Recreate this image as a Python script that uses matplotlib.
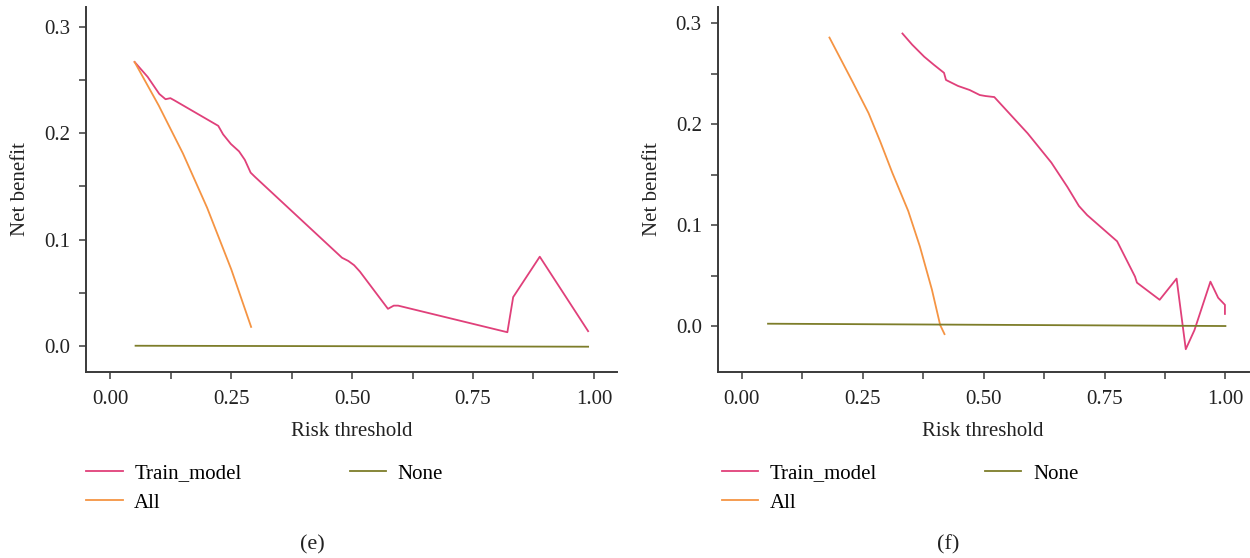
import matplotlib

matplotlib.use("Agg")
import matplotlib.pyplot as plt
from matplotlib.ticker import MultipleLocator

plt.rcParams["font.family"] = ["Liberation Serif", "DejaVu Serif"]

# panel (e)
e_model_x = [0.050, 0.077, 0.101, 0.114, 0.124, 0.132, 0.223, 0.233, 0.249,
             0.266, 0.278, 0.290, 0.299, 0.479, 0.492, 0.504, 0.516, 0.574,
             0.586, 0.595, 0.821, 0.833, 0.888, 0.988]
e_model_y = [0.267, 0.253, 0.237, 0.232, 0.233, 0.231, 0.207, 0.199, 0.190,
             0.183, 0.175, 0.163, 0.159, 0.083, 0.080, 0.076, 0.070, 0.035,
             0.038, 0.038, 0.013, 0.046, 0.084, 0.014]
e_all_x = [0.050, 0.100, 0.150, 0.200, 0.250, 0.291]
e_all_y = [0.267, 0.226, 0.181, 0.130, 0.072, 0.018]
e_none_x = [0.052, 0.988]
e_none_y = [0.0003, -0.0006]

# panel (f)
f_model_x = [0.332, 0.352, 0.377, 0.397, 0.418, 0.422, 0.426, 0.447, 0.471,
             0.492, 0.504, 0.522, 0.591, 0.640, 0.673, 0.697, 0.714, 0.776,
             0.813, 0.817, 0.864, 0.899, 0.918, 0.936, 0.969, 0.985, 0.999,
             0.999]
f_model_y = [0.290, 0.279, 0.267, 0.259, 0.251, 0.244, 0.243, 0.238, 0.234,
             0.229, 0.228, 0.227, 0.191, 0.162, 0.138, 0.119, 0.110, 0.084,
             0.049, 0.043, 0.026, 0.047, -0.023, -0.004, 0.044, 0.028, 0.021,
             0.012]
f_all_x = [0.181, 0.229, 0.262, 0.286, 0.311, 0.344, 0.368, 0.393, 0.410,
           0.419]
f_all_y = [0.286, 0.242, 0.211, 0.183, 0.152, 0.114, 0.079, 0.036, 0.001,
           -0.008]
f_none_x = [0.054, 1.0]
f_none_y = [0.0023, 0.0]

labels = ["Train_model", "All", "None"]
colors = ["#E0407A", "#F59443", "#7D7D2A"]

panels = [
    ("(e)", [(e_model_x, e_model_y), (e_all_x, e_all_y), (e_none_x, e_none_y)],
     (-0.0244, 0.3186), 0.069, 0.0, 312),
    ("(f)", [(f_model_x, f_model_y), (f_all_x, f_all_y), (f_none_x, f_none_y)],
     (-0.0456, 0.3162), 0.5742, 0.003, 948),
]

fig = plt.figure(figsize=(12.5, 5.58), dpi=100)
text_col = "#222222"
spine_col = "#3a3a3a"

for tag, series, ylim, left, leg_dx, tag_x in panels:
    ax = fig.add_axes([left, 0.3333, 0.4247, 0.654])
    lines = []
    for (xs, ys), lab, col in zip(series, labels, colors):
        (ln,) = ax.plot(xs, ys, color=col, lw=1.3, label=lab)
        lines.append(ln)
    ax.set_xlim(-0.05, 1.048)
    ax.set_ylim(*ylim)
    ax.xaxis.set_major_locator(MultipleLocator(0.25))
    ax.xaxis.set_minor_locator(MultipleLocator(0.125))
    ax.yaxis.set_major_locator(MultipleLocator(0.1))
    ax.yaxis.set_minor_locator(MultipleLocator(0.05))
    ax.xaxis.set_major_formatter(lambda v, p: f"{v:.2f}")
    ax.yaxis.set_major_formatter(lambda v, p: f"{v:.1f}")
    for s in ("top", "right"):
        ax.spines[s].set_visible(False)
    for s in ("left", "bottom"):
        ax.spines[s].set_color(spine_col)
        ax.spines[s].set_linewidth(1.4)
    ax.tick_params(which="both", length=5, width=1.1, color=spine_col,
                   labelsize=15, labelcolor=text_col)
    ax.tick_params(axis="x", pad=8)
    ax.tick_params(axis="y", pad=6.5)
    ax.set_xlabel("Risk threshold", fontsize=15, color=text_col, labelpad=9)
    ax.set_ylabel("Net benefit", fontsize=15, color=text_col, labelpad=10)

    ax.legend(lines, labels, loc="upper left", ncol=2, frameon=False,
              fontsize=15, handlelength=1.75, handletextpad=0.55,
              columnspacing=5.2, labelspacing=0.45, borderpad=0,
              borderaxespad=0,
              bbox_to_anchor=(left + leg_dx, 1 - 464 / 558),
              bbox_transform=fig.transFigure)
    ax.text(tag_x / 1250, 1 - 545 / 558, tag,
            transform=fig.transFigure, ha="center", va="center",
            fontsize=16, color=text_col)

fig.savefig("out.png", dpi=100)
plt.close(fig)
